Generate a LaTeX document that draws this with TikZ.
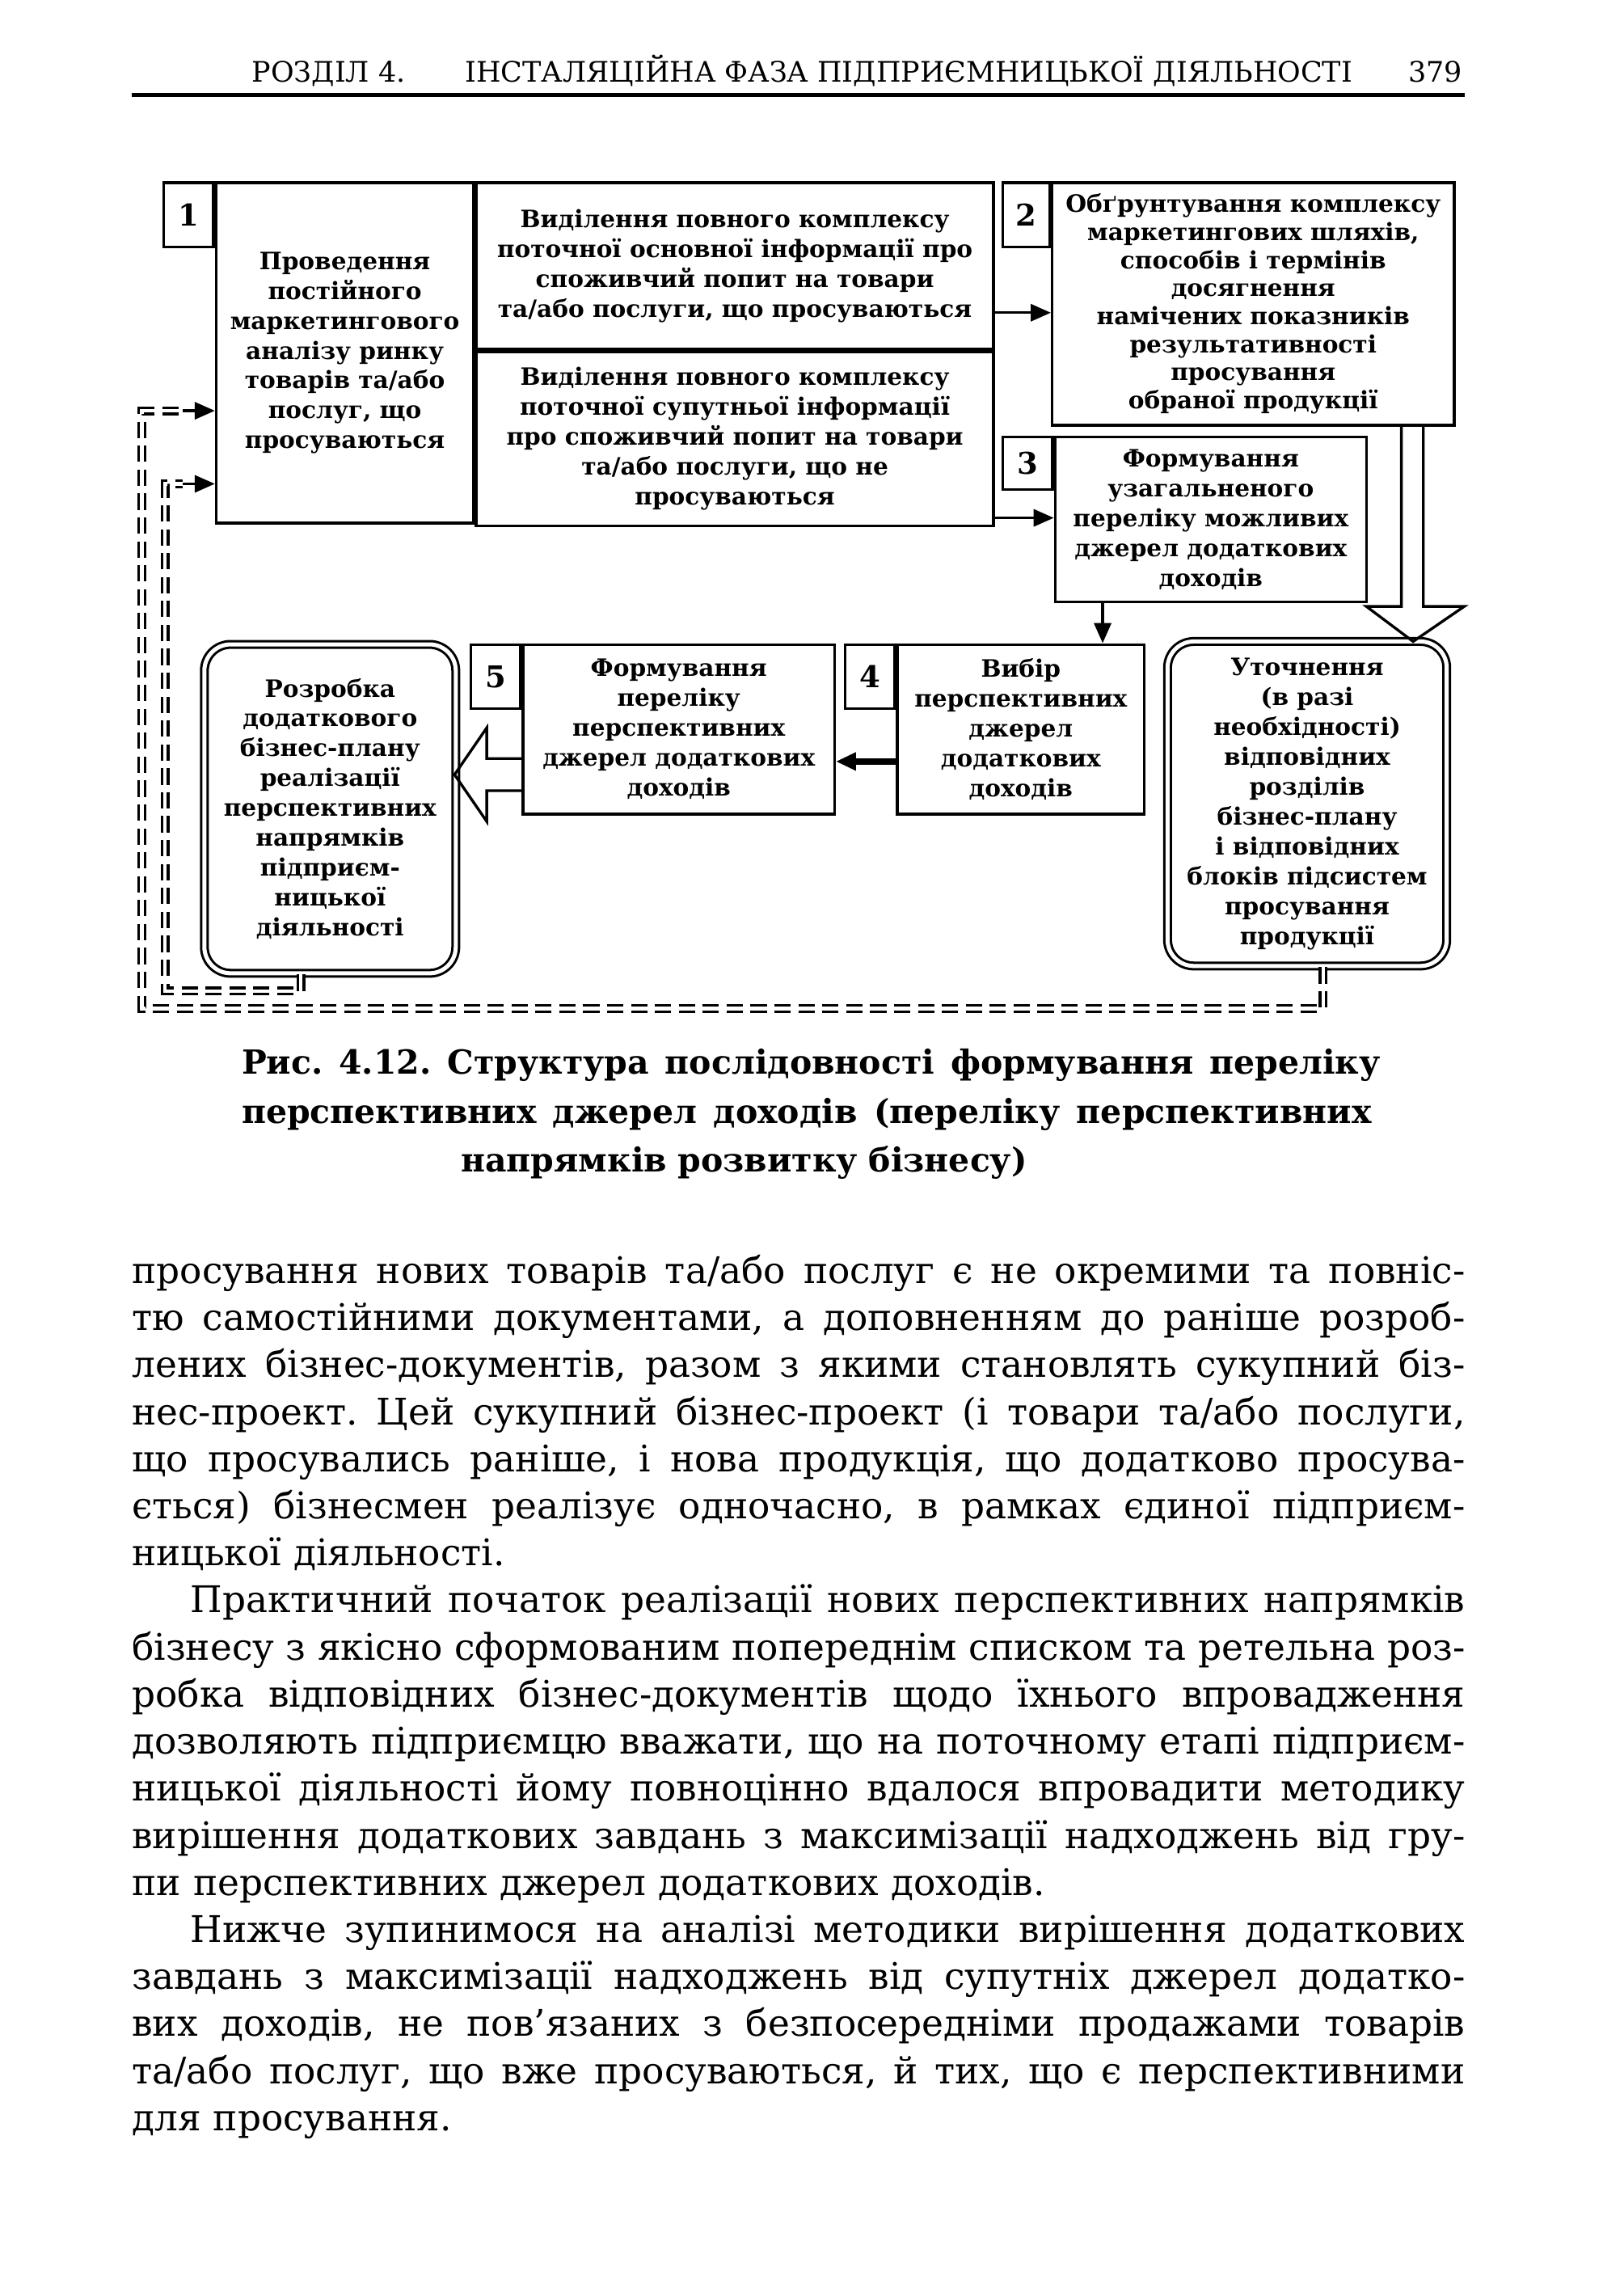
\documentclass[tikz,border=0pt]{standalone}
\usepackage{fontspec}
\setmainfont{DejaVu Serif}
\usetikzlibrary{arrows.meta, positioning, calc}
\newlength{\px}
\setlength{\px}{0.018902cm}
\newlength{\bodyw}
\setlength{\bodyw}{912\px}
\newcommand{\spread}[2]{{\spaceskip=0.3em plus 1fil minus 0.05em\makebox[#1][s]{#2}}}
\newcommand{\jline}[1]{\spread{\bodyw}{#1}}
\frenchspacing

\begin{document}
\begin{tikzpicture}[
    x=0.018902cm, y=-0.018902cm,
    blk/.style={rectangle, draw, line width=1pt, inner sep=1pt, align=center, font=\bfseries\fontsize{8.8}{11}\selectfont},
    numbox/.style={rectangle, draw, line width=1pt, minimum width=34\px, minimum height=44\px, inner sep=0pt, font=\bfseries\fontsize{11}{12}\selectfont},
    roundbox/.style={rectangle, draw, double, double distance=1.5pt, line width=0.9pt, rounded corners=0.34cm, align=center, inner sep=1pt, font=\bfseries\fontsize{8.8}{11}\selectfont},
    arrow/.style={-{Triangle[length=0.26cm, width=0.22cm]}, line width=1pt},
    dbldash/.style={double, double distance=1.3pt, line width=1pt, dash pattern=on 6pt off 2.8pt},
    hollow/.style={draw, line width=1pt},
    headtext/.style={inner sep=0pt, font=\fontsize{10.4}{12}\selectfont},
    pagetext/.style={inner sep=0pt, font=\fontsize{13.5}{17.32}\selectfont}
]
\useasboundingbox (0,0) rectangle (1111,1568);
\fill[white] (0,0) rectangle (1111,1568);

% Running head
\node[headtext, anchor=base west] (hchap) at (172,56) {РОЗДІЛ 4.};
\node[headtext, anchor=base west] (htitle) at (318,56) {ІНСТАЛЯЦІЙНА ФАЗА ПІДПРИЄМНИЦЬКОЇ ДІЯЛЬНОСТІ};
\node[headtext, anchor=base east] (hpage) at (1001,56) {379};
\draw[line width=1.4pt] (90,65) -- (1002,65);

% Step 1
\node[blk, minimum width=176\px, minimum height=233\px, anchor=north west] (c1) at (147,124) {Проведення\\постійного\\маркетингового\\аналізу ринку\\товарів та/або\\послуг, що\\просуваються};
\node[blk, minimum width=354\px, minimum height=114\px, anchor=north west] (c2) at (c1.north east) {Виділення повного комплексу\\поточної основної інформації про\\споживчий попит на товари\\та/або послуги, що просуваються};
\node[blk, minimum width=354\px, minimum height=119\px, anchor=north west] (c3) at (c2.south west) {Виділення повного комплексу\\поточної супутньої інформації\\про споживчий попит на товари\\та/або послуги, що не\\просуваються};
\node[numbox, anchor=north east] (n1) at (c1.north west) {1};

% Step 2
\node[blk, minimum width=275\px, minimum height=166\px, anchor=north west, font=\bfseries\fontsize{8.8}{10.3}\selectfont] (b2) at (719,124) {Обґрунтування комплексу\\маркетингових шляхів,\\способів і термінів\\досягнення\\намічених показників\\результативності\\просування\\обраної продукції};
\node[numbox, minimum width=32\px, anchor=north east] (n2) at (b2.north west) {2};
\draw[arrow] ([yshift=-32\px]c2.east) -- ([yshift=-32\px]c2.east -| b2.west);

% Step 3
\node[blk, minimum width=213\px, minimum height=113\px, anchor=north west] (b3) at (721,298) {Формування\\узагальненого\\переліку можливих\\джерел додаткових\\доходів};
\node[numbox, minimum height=36\px, anchor=north east] (n3) at (b3.north west) {3};
\draw[arrow] ([yshift=-54\px]c3.east) -- ([yshift=-54\px]c3.east -| b3.west);

% Step 4
\node[blk, minimum width=169\px, minimum height=116\px, anchor=north west] (b4) at (613,440) {Вибір\\перспективних\\джерел\\додаткових\\доходів};
\node[numbox, anchor=north east] (n4) at (b4.north west) {4};
\draw[arrow] ([xshift=-74\px]b3.south) -- ([xshift=-74\px]b3.south |- b4.north);

% Step 5
\node[blk, minimum width=213\px, minimum height=116\px, anchor=north west] (b5) at (357,440) {Формування\\переліку\\перспективних\\джерел додаткових\\доходів};
\node[numbox, anchor=north east] (n5) at (b5.north west) {5};
\draw[arrow, line width=2.5pt] ([yshift=-22\px]b4.west) -- ([yshift=-22\px]b4.west -| b5.east);

% Refinement and new business plan
\node[roundbox, minimum width=191\px, minimum height=222\px, anchor=north west] (b6) at (798,438) {Уточнення\\(в разі\\необхідності)\\відповідних\\розділів\\бізнес-плану\\і відповідних\\блоків підсистем\\просування\\продукції};
\node[roundbox, minimum width=172\px, minimum height=225\px, anchor=north west] (b7) at (139,440) {Розробка\\додаткового\\бізнес-плану\\реалізації\\перспективних\\напрямків\\підприєм-\\ницької\\діяльності};

% Hollow arrows
\draw[hollow] ([xshift=-37\px]b2.south east) -- ++(0,123) -- ++(-24,0) -- ++(32,24) -- ++(35,-24) -- ++(-28,0) -- ++(0,-123);
\draw[hollow] ([yshift=-20\px]b5.west) -- ++(-24,0) -- ++(0,-21) -- ++(-22,32) -- ++(22,32) -- ++(0,-21) -- ++(24,0);

% Feedback loops
\coordinate (ob) at (97,690);
\coordinate (oa) at (125,281);
\coordinate (ib) at (113,678);
\coordinate (ia) at (125,331);
\draw[dbldash] ([xshift=11\px]b6.south) |- (ob) |- (oa);
\draw[arrow] (oa) -- (oa -| c1.west);
\draw[dbldash] ([xshift=-20\px]b7.south) |- (ib) |- (ia);
\draw[arrow] (ia) -- (ia -| c1.west);

% Caption
\node[inner sep=0pt, anchor=base west, text width=779\px, align=left, font=\bfseries\fontsize{12.2}{18}\selectfont] (cap) at (165,735) {\spread{779\px}{Рис. 4.12. Структура послідовності формування переліку}\\\spread{773\px}{перспективних джерел доходів (переліку перспективних}\\\hspace*{150\px}напрямків розвитку бізнесу)};

% Body text
\node[pagetext, anchor=base west, text width=\bodyw, align=left] (body) at (90,878) {%
\jline{просування нових товарів та/або послуг є не окремими та повніс-}\\
\jline{тю самостійними документами, а доповненням до раніше розроб-}\\
\jline{лених бізнес-документів, разом з якими становлять сукупний біз-}\\
\jline{нес-проект. Цей сукупний бізнес-проект (і товари та/або послуги,}\\
\jline{що просувались раніше, і нова продукція, що додатково просува-}\\
\jline{ється) бізнесмен реалізує одночасно, в рамках єдиної підприєм-}\\
ницької діяльності.\\
\jline{\hspace*{40\px}Практичний початок реалізації нових перспективних напрямків}\\
\jline{бізнесу з якісно сформованим попереднім списком та ретельна роз-}\\
\jline{робка відповідних бізнес-документів щодо їхнього впровадження}\\
\jline{дозволяють підприємцю вважати, що на поточному етапі підприєм-}\\
\jline{ницької діяльності йому повноцінно вдалося впровадити методику}\\
\jline{вирішення додаткових завдань з максимізації надходжень від гру-}\\
пи перспективних джерел додаткових доходів.\\
\jline{\hspace*{40\px}Нижче зупинимося на аналізі методики вирішення додаткових}\\
\jline{завдань з максимізації надходжень від супутніх джерел додатко-}\\
\jline{вих доходів, не пов'язаних з безпосередніми продажами товарів}\\
\jline{та/або послуг, що вже просуваються, й тих, що є перспективними}\\
для просування.};

\end{tikzpicture}
\end{document}
